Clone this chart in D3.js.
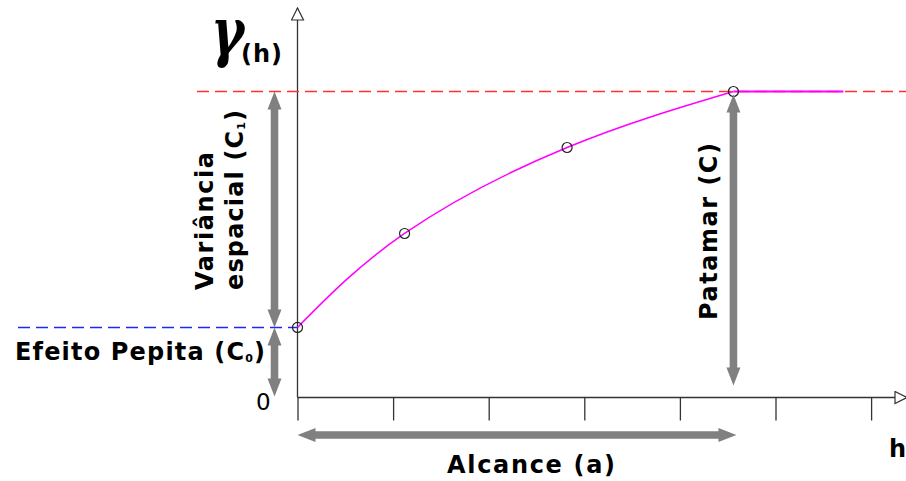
<!DOCTYPE html>
<html>
<head>
<meta charset="utf-8">
<script src="https://cdn.jsdelivr.net/npm/d3@7"></script>
<style>
  body { margin: 0; background: #fff; }
  svg { display: block; }
</style>
</head>
<body>
<div id="chart"></div>
<script>
// Variogram values (h in tick units, gamma scaled so sill = 1)
var lagH = [0, 1.12, 2.82, 4.56];
var gammaVals = [0.229, 0.536, 0.817, 1.0];
var tickVals = [0, 1, 2, 3, 4, 5, 6];
var nugget = 0.229, sill = 1.0, range = 4.56, flatEnd = 5.71;

var width = 906, height = 481;

var svg = d3.select("#chart")
    .append("svg")
        .attr("width", width)
        .attr("height", height);

var x = d3.scaleLinear().domain([0, 6]).range([297.5, 871.1]);
var y = d3.scaleLinear().domain([0, 1]).range([397.5, 91.5]);

// arrow heads for the axes
var defs = svg.append("defs");
defs.append("marker")
    .attr("id", "hollow")
    .attr("viewBox", "0 0 14 14")
    .attr("refX", 13).attr("refY", 7)
    .attr("markerWidth", 14).attr("markerHeight", 14)
    .attr("markerUnits", "userSpaceOnUse")
    .attr("orient", "auto")
    .append("path")
        .attr("d", "M1,1 L13,7 L1,13 Z")
        .attr("fill", "#fff")
        .attr("stroke", "#333")
        .attr("stroke-width", 1.2);

// axes
svg.append("g")
    .attr("transform", "translate(0," + y(0) + ")")
    .call(d3.axisBottom(x).tickValues(tickVals).tickSizeInner(23).tickSizeOuter(0).tickFormat(""))
    .call(g => g.select(".domain").remove())
    .call(g => g.selectAll("line").attr("stroke", "#333").attr("stroke-width", 1.3));

svg.append("line")
    .attr("x1", x(0)).attr("y1", y(0))
    .attr("x2", 907).attr("y2", y(0))
    .attr("stroke", "#333").attr("stroke-width", 1.3)
    .attr("marker-end", "url(#hollow)");

svg.append("line")
    .attr("x1", x(0)).attr("y1", y(0))
    .attr("x2", x(0)).attr("y2", 8)
    .attr("stroke", "#333").attr("stroke-width", 1.3)
    .attr("marker-end", "url(#hollow)");

// sill and nugget dashed guides
svg.append("line")
    .attr("x1", 197).attr("x2", width)
    .attr("y1", y(sill)).attr("y2", y(sill))
    .attr("stroke", "#ff3030").attr("stroke-width", 1.4)
    .attr("stroke-dasharray", "12,6");

svg.append("line")
    .attr("x1", 18).attr("x2", x(0))
    .attr("y1", y(nugget)).attr("y2", y(nugget))
    .attr("stroke", "#1a2aff").attr("stroke-width", 1.4)
    .attr("stroke-dasharray", "12,6");

// model curve through the sample points, then flat at the sill
var curveData = lagH.map((h, i) => [h, gammaVals[i]]);
var line = d3.line()
    .x(d => x(d[0]))
    .y(d => y(d[1]))
    .curve(d3.curveNatural);

svg.append("path")
    .datum(curveData)
    .attr("d", line)
    .attr("fill", "none")
    .attr("stroke", "#ff00ff")
    .attr("stroke-width", 1.5);

svg.append("line")
    .attr("x1", x(range)).attr("x2", x(flatEnd))
    .attr("y1", y(sill)).attr("y2", y(sill))
    .attr("stroke", "#ff00ff")
    .attr("stroke-width", 1.8);

svg.append("g")
    .selectAll("circle")
    .data(lagH)
    .enter()
    .append("circle")
        .attr("cx", d => x(d))
        .attr("cy", (d, i) => y(gammaVals[i]))
        .attr("r", 5)
        .attr("fill", "none")
        .attr("stroke", "#222")
        .attr("stroke-width", 1.2);

// gray double arrows
function dblArrow(x1, y1, x2, y2) {
    var len = Math.hypot(x2 - x1, y2 - y1);
    var hl = 18, hw = 7, sw = 3.8;
    var pts = [[0, 0], [hl, -hw], [hl, -sw], [len - hl, -sw], [len - hl, -hw], [len, 0],
               [len - hl, hw], [len - hl, sw], [hl, sw], [hl, hw]];
    var ang = Math.atan2(y2 - y1, x2 - x1) * 180 / Math.PI;
    svg.append("polygon")
        .attr("points", pts.map(p => p.join(",")).join(" "))
        .attr("transform", "translate(" + x1 + "," + y1 + ") rotate(" + ang + ")")
        .attr("fill", "#808080");
}
dblArrow(x(0) - 23, y(sill), x(0) - 23, y(nugget));
dblArrow(x(0) - 23, y(nugget), x(0) - 23, y(0) - 1);
dblArrow(x(range), y(sill) + 3, x(range), y(0) - 12);
dblArrow(x(0), 435, x(range) + 3, 435);

// labels
var font = "'DejaVu Sans', Verdana, sans-serif";

svg.append("text")
    .attr("transform", "translate(211,54) scale(0.9,1.18)")
    .attr("font-family", "'DejaVu Serif', serif")
    .attr("font-style", "italic")
    .attr("font-weight", "bold")
    .attr("font-size", 56)
    .text("γ");

svg.append("text")
    .attr("x", 241).attr("y", 62)
    .attr("font-family", font)
    .attr("font-weight", "bold")
    .attr("font-size", 24)
    .attr("textLength", 41)
    .text("(h)");

svg.append("text")
    .attr("x", 256).attr("y", 410)
    .attr("font-family", font)
    .attr("font-size", 23)
    .text("0");

svg.append("text")
    .attr("x", 889).attr("y", 457)
    .attr("font-family", font)
    .attr("font-weight", "bold")
    .attr("font-size", 24)
    .text("h");

var ef = svg.append("text")
    .attr("x", 15).attr("y", 360)
    .attr("font-family", font)
    .attr("font-weight", "bold")
    .attr("font-size", 24)
    .attr("textLength", 250)
    .attr("lengthAdjust", "spacing");
ef.append("tspan").text("Efeito Pepita (C");
ef.append("tspan").attr("font-size", 11).attr("dy", 2).text("0");
ef.append("tspan").attr("dy", -2).text(")");

svg.append("text")
    .attr("x", 447).attr("y", 473)
    .attr("font-family", font)
    .attr("font-weight", "bold")
    .attr("font-size", 24)
    .attr("textLength", 168)
    .attr("lengthAdjust", "spacing")
    .text("Alcance (a)");

svg.append("text")
    .attr("transform", "translate(717,320) rotate(-90)")
    .attr("font-family", font)
    .attr("font-weight", "bold")
    .attr("font-size", 24)
    .attr("textLength", 177)
    .attr("lengthAdjust", "spacing")
    .text("Patamar (C)");

svg.append("text")
    .attr("transform", "translate(213,290) rotate(-90)")
    .attr("font-family", font)
    .attr("font-weight", "bold")
    .attr("font-size", 24)
    .attr("textLength", 138)
    .attr("lengthAdjust", "spacing")
    .text("Variância");

var es = svg.append("text")
    .attr("transform", "translate(243,290) rotate(-90)")
    .attr("font-family", font)
    .attr("font-weight", "bold")
    .attr("font-size", 24)
    .attr("textLength", 180)
    .attr("lengthAdjust", "spacing");
es.append("tspan").text("espacial (C");
es.append("tspan").attr("font-size", 11).attr("dy", 2).text("1");
es.append("tspan").attr("dy", -2).text(")");
</script>
</body>
</html>
